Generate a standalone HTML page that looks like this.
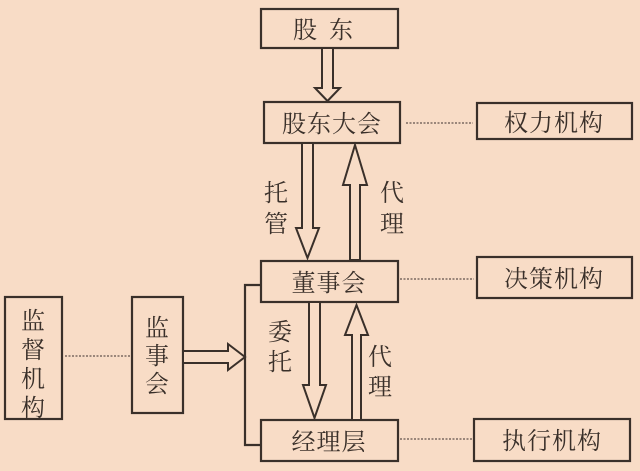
<!DOCTYPE html>
<html><head><meta charset="utf-8"><style>
html,body{margin:0;padding:0;background:#f8dcc6;}
svg{display:block}
text{font-family:"Liberation Serif","Noto Serif CJK SC",serif;font-size:24px;fill:#3a302a;}
</style></head><body>
<svg width="640" height="471" viewBox="0 0 640 471" xmlns="http://www.w3.org/2000/svg">
<rect width="640" height="471" fill="#f8dcc6"/>
<g fill="none" stroke="#3a302a" stroke-width="2.2">
<rect x="261" y="9" width="137" height="39"/>
<rect x="264" y="102" width="136" height="41"/>
<rect x="477" y="103" width="155" height="36"/>
<rect x="261" y="261" width="137" height="41"/>
<rect x="477" y="257" width="155" height="41"/>
<rect x="261" y="420" width="137" height="41"/>
<rect x="474" y="419" width="156" height="42"/>
<rect x="5" y="297" width="57" height="122"/>
<rect x="132" y="297" width="51" height="116"/>
<polyline points="261,285 245,285 245,445 261,445"/>
</g>
<g stroke="#7a6a60" stroke-width="1.5" stroke-dasharray="2,1.5">
<line x1="406" y1="123" x2="473" y2="123"/>
<line x1="400" y1="279" x2="474" y2="279"/>
<line x1="400" y1="439" x2="472" y2="439"/>
<line x1="65" y1="356" x2="130" y2="356"/>
</g>
<g fill="#f8dcc6" stroke="#3a302a" stroke-width="2">
<polygon points="322,48 333,48 333,88 340,88 327.5,101 315,88 322,88"/>
<polygon points="302,143 313,143 313,228 319,228 307.5,258 296,228 302,228"/>
<polygon points="350,260 360,260 360,185 367,185 355,145 343,185 350,185"/>
<polygon points="309,302 320,302 320,385 326,385 314.5,418 303,385 309,385"/>
<polygon points="352,420 361,420 361,335 368,335 356.5,305 345,335 352,335"/>
<polygon points="183,351 228,351 228,344 245,357 228,370 228,363 183,363"/>
</g>
<text x="329" y="38" text-anchor="middle" letter-spacing="12">股东</text>
<text x="332" y="132" text-anchor="middle" letter-spacing="1">股东大会</text>
<text x="554" y="131" text-anchor="middle" letter-spacing="1">权力机构</text>
<text x="329" y="291" text-anchor="middle" letter-spacing="1">董事会</text>
<text x="554" y="287" text-anchor="middle" letter-spacing="1">决策机构</text>
<text x="329" y="450" text-anchor="middle" letter-spacing="1">经理层</text>
<text x="552" y="449" text-anchor="middle" letter-spacing="1">执行机构</text>
<text x="264" y="201">托</text><text x="264" y="232">管</text>
<text x="380" y="201">代</text><text x="380" y="232">理</text>
<text x="268" y="340">委</text><text x="268" y="370">托</text>
<text x="368" y="365">代</text><text x="368" y="395">理</text>
<text x="21" y="329">监</text><text x="21" y="358">督</text><text x="21" y="387">机</text><text x="21" y="416">构</text>
<text x="145" y="336">监</text><text x="145" y="364">事</text><text x="145" y="392">会</text>
</svg>
</body></html>
